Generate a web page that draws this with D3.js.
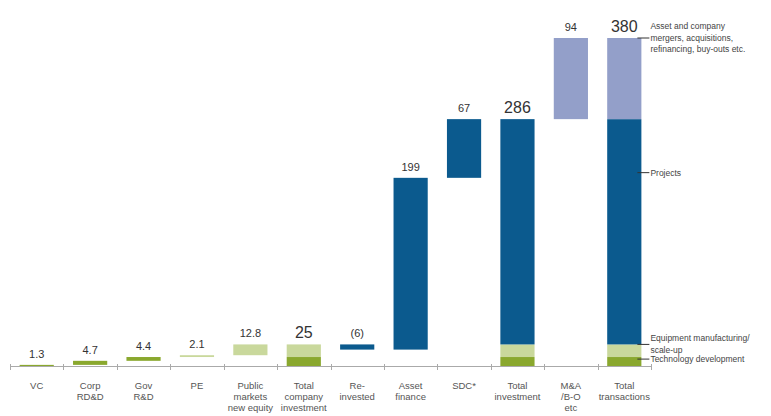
<!DOCTYPE html>
<html><head><meta charset="utf-8">
<script src="https://cdn.jsdelivr.net/npm/d3@7"></script>
<style>body{margin:0;background:#fff}svg{display:block}</style>
</head><body>
<script>
const categories = ["VC","Corp\nRD&D","Gov\nR&D","PE","Public\nmarkets\nnew equity","Total\ncompany\ninvestment","Re-\ninvested","Asset\nfinance","SDC*","Total\ninvestment","M&A\n/B-O\netc","Total\ntransactions"];
const valueLabels = ["1.3","4.7","4.4","2.1","12.8","25","(6)","199","67","286","94","380"];
const bigLabel = [false,false,false,false,false,true,false,false,false,true,false,true];
// segments: [category index, start, end, type]
const techDev = 10.4, equip = 25, projects = 286, total = 380;
const segments = [
  [0, 0, 1.3, "tech"],
  [1, 1.3, 6.0, "tech"],
  [2, 6.0, 10.4, "tech"],
  [3, 10.4, 12.5, "equip"],
  [4, 12.5, 25, "equip"],
  [5, 0, techDev, "tech"],
  [5, techDev, equip, "equip"],
  [6, 19, 25, "proj"],
  [7, 19, 218, "proj"],
  [8, 218, 286, "proj"],
  [9, 0, techDev, "tech"],
  [9, techDev, equip, "equip"],
  [9, equip, projects, "proj"],
  [10, projects, total, "ma"],
  [11, 0, techDev, "tech"],
  [11, techDev, equip, "equip"],
  [11, equip, projects, "proj"],
  [11, projects, total, "ma"]
];
const colors = {tech:"#8aa82e", equip:"#c9d89c", proj:"#0b5a8e", ma:"#939fc9"};
const sideLabels = [
  {v:380, lines:["Asset and company","mergers, acquisitions,","refinancing, buy-outs etc."], dy:-12},
  {v:224, lines:["Projects"], dy:0},
  {v:25, lines:["Equipment manufacturing/","scale-up"], dy:-6},
  {v:8, lines:["Technology development"], dy:0}
];

const W=771,H=416;
const svg=d3.select("body").append("svg").attr("width",W).attr("height",H);
const x=d3.scaleBand().domain(d3.range(categories.length)).range([10,651]).paddingInner(0.36).paddingOuter(0.18);
const y=d3.scaleLinear().domain([0,380]).range([366,38]);

// bars
svg.selectAll("rect.seg").data(segments).join("rect")
  .attr("x",d=>x(d[0])).attr("width",x.bandwidth())
  .attr("y",d=>y(d[2])).attr("height",d=>Math.max(1,y(d[1])-y(d[2])))
  .attr("fill",d=>colors[d[3]]);

// axis
const axisG=svg.append("g");
axisG.append("line").attr("x1",10).attr("x2",651).attr("y1",366.5).attr("y2",366.5).attr("stroke","#aaa");
const step=x.step();
const tickXs=d3.range(categories.length+1).map(i=>x(i===categories.length?i-1:i)-(i===categories.length?-x.bandwidth()-x.paddingInner()*step/2:x.paddingInner()*step/2));
axisG.selectAll("line.t").data(tickXs).join("line")
  .attr("x1",d=>Math.round(d)+0.5).attr("x2",d=>Math.round(d)+0.5).attr("y1",364).attr("y2",370).attr("stroke","#aaa");

// category labels
categories.forEach((c,i)=>{
  const t=svg.append("text").attr("x",x(i)+x.bandwidth()/2).attr("y",389)
    .attr("text-anchor","middle").attr("font-family","Liberation Sans, Arial, sans-serif")
    .attr("font-size",9.5).attr("fill","#555");
  c.split("\n").forEach((l,k)=>t.append("tspan").attr("x",x(i)+x.bandwidth()/2).attr("dy",k?11:0).text(l));
});

// value labels
const tops=categories.map((c,i)=>d3.max(segments.filter(s=>s[0]===i),s=>s[2]));
valueLabels.forEach((v,i)=>{
  svg.append("text").attr("x",x(i)+x.bandwidth()/2).attr("y",y(tops[i])-(bigLabel[i]?6:7))
    .attr("text-anchor","middle").attr("font-family","Liberation Sans, Arial, sans-serif")
    .attr("font-size",bigLabel[i]?16:11).attr("fill","#333").text(v);
});

// side labels
const rx=x(11)+x.bandwidth();
sideLabels.forEach(s=>{
  const yy=y(s.v);
  svg.append("line").attr("x1",rx-4).attr("x2",rx+8).attr("y1",yy).attr("y2",yy).attr("stroke","#333");
  const t=svg.append("text").attr("x",rx+9).attr("y",yy+3+s.dy)
    .attr("font-family","Liberation Sans, Arial, sans-serif").attr("font-size",8.5).attr("fill","#444");
  s.lines.forEach((l,k)=>t.append("tspan").attr("x",rx+9).attr("dy",k?11.5:0).text(l));
});
</script>
</body></html>
